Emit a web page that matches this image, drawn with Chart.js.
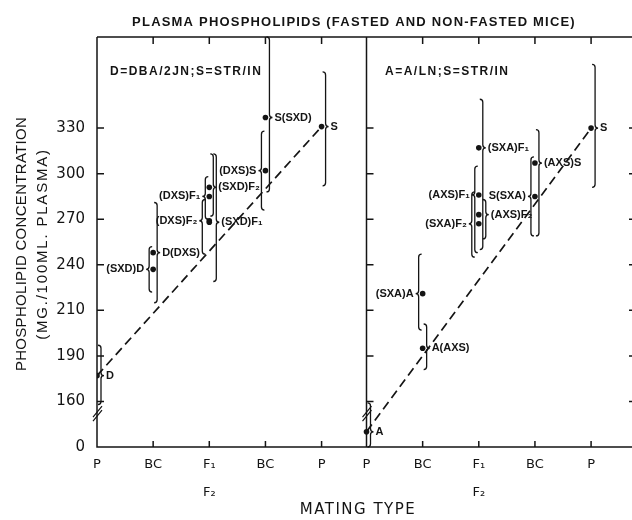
<!DOCTYPE html>
<html>
<head>
<meta charset="utf-8">
<script src="https://cdn.jsdelivr.net/npm/chart.js@4.4.0/dist/chart.umd.min.js"></script>
<style>
  html, body { margin: 0; padding: 0; background: #fff; overflow: hidden; }
  #grafico { display: block; }
</style>
</head>
<body>
<canvas id="grafico" width="640" height="520"></canvas>
<script>
// categorias do eixo x (iguais nos dois paineis)
const categorias = ["P", "BC", "F1", "BC", "P"];

// eixo y: valores dos ticks e rotulos impressos (eixo quebrado embaixo)
const ticksY = [120, 150, 180, 210, 240, 270, 300, 330];
const rotulosY = ["0", "160", "190", "210", "240", "270", "300", "330"];

// painel esquerdo: D = DBA/2JN ; S = STR/IN
const nomesD = ["D", "(SXD)D", "D(DXS)", "(DXS)F₁", "(DXS)F₂", "(SXD)F₂", "(SXD)F₁", "(DXS)S", "S(SXD)", "S"];
const colunasD = [0, 1, 1, 2, 2, 2, 2, 3, 3, 4];
const mediasD = [167, 237, 248, 285, 269, 291, 268, 302, 337, 331];
const minimosD = [148, 222, 215, 270, 247, 272, 229, 276, 288, 292];
const maximosD = [187, 252, 281, 298, 283, 313, 313, 328, 390, 367];
const ladosD = ["D", "E", "D", "E", "E", "D", "D", "E", "D", "D"]; // D = direita, E = esquerda

// painel direito: A = A/LN ; S = STR/IN
const nomesA = ["A", "(SXA)A", "A(AXS)", "(AXS)F₁", "(SXA)F₂", "(SXA)F₁", "(AXS)F₂", "S(SXA)", "(AXS)S", "S"];
const colunasA = [0, 1, 1, 2, 2, 2, 2, 3, 3, 4];
const mediasA = [130, 221, 185, 286, 267, 317, 273, 285, 307, 330];
const minimosA = [120, 197, 171, 248, 245, 250, 257, 259, 259, 291];
const maximosA = [149, 247, 201, 305, 288, 349, 283, 311, 329, 372];
const ladosA = ["D", "E", "D", "E", "E", "D", "D", "E", "D", "D"];

const deslocamento = 4.8; // inicio do painel direito no eixo x
const tinta = "#141414";

const posicoesX = [];
const rotulosX = [];
[0, deslocamento].forEach(d => {
  categorias.forEach((c, i) => {
    posicoesX.push(i + d);
    rotulosX.push(c === "F1" ? ["F₁", "F₂"] : c);
  });
});

function chave(ctx, x, yTopo, yBase, yPonta, dir) {
  // dir = 1 -> "}" ponta para a direita ; -1 -> "{"
  const w = 3 * dir, r = 3;
  yPonta = Math.min(Math.max(yPonta, yTopo + r), yBase - r);
  ctx.beginPath();
  ctx.moveTo(x - w, yTopo);
  ctx.quadraticCurveTo(x, yTopo, x, yTopo + r);
  ctx.lineTo(x, yPonta - r);
  ctx.quadraticCurveTo(x, yPonta, x + w, yPonta);
  ctx.quadraticCurveTo(x, yPonta, x, yPonta + r);
  ctx.lineTo(x, yBase - r);
  ctx.quadraticCurveTo(x, yBase, x - w, yBase);
  ctx.stroke();
}

function desenharPainel(chart, nomes, colunas, medias, minimos, maximos, lados, d) {
  const ctx = chart.ctx, sx = chart.scales.x, sy = chart.scales.y;
  const pilha = {};
  ctx.font = "bold 11px 'Liberation Sans', Arial, sans-serif";
  ctx.textBaseline = "middle";
  nomes.forEach((nome, i) => {
    const dir = lados[i] === "D" ? 1 : -1;
    const grupo = colunas[i] + lados[i];
    const k = pilha[grupo] || 0;
    pilha[grupo] = k + 1;
    const px = sx.getPixelForValue(colunas[i] + d);
    const py = sy.getPixelForValue(medias[i]);
    const bx = px + dir * (4 + 3 * k);
    chave(ctx, bx, sy.getPixelForValue(maximos[i]), sy.getPixelForValue(minimos[i]), py, dir);
    ctx.textAlign = dir > 0 ? "left" : "right";
    ctx.fillText(nome, bx + dir * 5, py);
  });
}

const moldura = {
  id: "moldura",
  afterDatasetsDraw(chart) {
    const ctx = chart.ctx, a = chart.chartArea;
    const sx = chart.scales.x, sy = chart.scales.y;
    const xDiv = sx.getPixelForValue(deslocamento);
    ctx.save();
    ctx.strokeStyle = tinta;
    ctx.fillStyle = tinta;
    ctx.lineWidth = 1.5;
    ctx.beginPath();
    ctx.moveTo(a.left, a.top); ctx.lineTo(a.left, a.bottom); ctx.lineTo(a.right, a.bottom);
    ctx.lineTo(a.right, a.top); ctx.lineTo(a.left, a.top);
    ctx.moveTo(xDiv, a.top); ctx.lineTo(xDiv, a.bottom);
    ticksY.forEach(v => {
      const y = sy.getPixelForValue(v);
      ctx.moveTo(a.left, y); ctx.lineTo(a.left + 7, y);
      ctx.moveTo(xDiv, y); ctx.lineTo(xDiv + 7, y);
      ctx.moveTo(a.right, y); ctx.lineTo(a.right - 7, y);
    });
    posicoesX.forEach(v => {
      const x = sx.getPixelForValue(v);
      ctx.moveTo(x, a.bottom); ctx.lineTo(x, a.bottom - 6);
      ctx.moveTo(x, a.top); ctx.lineTo(x, a.top + 7);
    });
    ctx.stroke();

    // marcas de quebra do eixo
    ctx.lineWidth = 1.2;
    [a.left, xDiv].forEach(x0 => {
      const yq = sy.getPixelForValue(143);
      ctx.beginPath();
      ctx.moveTo(x0 - 4, yq + 5); ctx.lineTo(x0 + 5, yq - 6);
      ctx.moveTo(x0 - 4, yq + 9); ctx.lineTo(x0 + 5, yq - 2);
      ctx.stroke();
    });

    ctx.lineWidth = 1.3;
    desenharPainel(chart, nomesD, colunasD, mediasD, minimosD, maximosD, ladosD, 0);
    desenharPainel(chart, nomesA, colunasA, mediasA, minimosA, maximosA, ladosA, deslocamento);

    // textos
    ctx.textAlign = "left";
    ctx.textBaseline = "middle";
    ctx.font = "bold 12px 'Liberation Sans', Arial, sans-serif";
    ctx.letterSpacing = "1.5px";
    ctx.fillText("D=DBA/2JN;S=STR/IN", 110, 72);
    ctx.fillText("A=A/LN;S=STR/IN", 385, 72);

    ctx.textAlign = "center";
    ctx.font = "bold 13px 'Liberation Sans', Arial, sans-serif";
    ctx.letterSpacing = "1.2px";
    ctx.fillText("PLASMA PHOSPHOLIPIDS (FASTED AND NON-FASTED MICE)", 354, 22);

    ctx.font = "15px 'DejaVu Sans', sans-serif";
    ctx.letterSpacing = "1.5px";
    ctx.fillText("MATING TYPE", 358, 510);

    ctx.font = "15px 'Liberation Sans', Arial, sans-serif";
    ctx.save();
    ctx.translate(22, 244);
    ctx.rotate(-Math.PI / 2);
    ctx.letterSpacing = "0.3px";
    ctx.fillText("PHOSPHOLIPID CONCENTRATION", 0, 0);
    ctx.letterSpacing = "1.8px";
    ctx.fillText("(MG./100ML. PLASMA)", 0, 21);
    ctx.restore();
    ctx.letterSpacing = "0px";
    ctx.restore();
  }
};

function inicializarGrafico() {
  const ctx = document.getElementById("grafico").getContext("2d");
  const ultD = mediasD.length - 1, ultA = mediasA.length - 1;

  new Chart(ctx, {
    type: "scatter",
    data: {
      datasets: [
        {
          data: colunasD.map((c, i) => ({ x: c, y: mediasD[i] })),
          backgroundColor: tinta, borderWidth: 0, pointRadius: 2.8
        },
        {
          data: colunasA.map((c, i) => ({ x: c + deslocamento, y: mediasA[i] })),
          backgroundColor: tinta, borderWidth: 0, pointRadius: 2.8
        },
        {
          type: "line",
          data: [{ x: colunasD[0], y: mediasD[0] }, { x: colunasD[ultD], y: mediasD[ultD] }],
          borderColor: tinta, borderWidth: 1.7, borderDash: [9, 5], pointRadius: 0, fill: false
        },
        {
          type: "line",
          data: [{ x: colunasA[0] + deslocamento, y: mediasA[0] }, { x: colunasA[ultA] + deslocamento, y: mediasA[ultA] }],
          borderColor: tinta, borderWidth: 1.7, borderDash: [9, 5], pointRadius: 0, fill: false
        }
      ]
    },
    options: {
      responsive: false,
      animation: false,
      layout: { padding: { top: 37, right: 3, left: 0, bottom: 0 } },
      plugins: { legend: { display: false }, tooltip: { enabled: false } },
      scales: {
        x: {
          type: "linear", min: 0, max: 9.6,
          grid: { display: false, drawTicks: false },
          border: { display: false },
          afterBuildTicks: s => { s.ticks = posicoesX.map(v => ({ value: v })); },
          afterFit: s => { s.height = 73; },
          ticks: {
            autoSkip: false, maxRotation: 0, padding: 4, color: tinta,
            font: { family: "'DejaVu Sans', sans-serif", size: 13, lineHeight: "28px" },
            callback: (v, i) => rotulosX[i]
          }
        },
        y: {
          type: "linear", min: 120, max: 390,
          grid: { display: false, drawTicks: false },
          border: { display: false },
          afterBuildTicks: s => { s.ticks = ticksY.map(v => ({ value: v })); },
          afterFit: s => { s.width = 97; },
          ticks: {
            padding: 12, color: tinta,
            font: { family: "'DejaVu Sans', sans-serif", size: 15 },
            callback: (v, i) => rotulosY[i]
          }
        }
      }
    },
    plugins: [moldura]
  });
}

document.addEventListener("DOMContentLoaded", inicializarGrafico);
</script>
</body>
</html>
